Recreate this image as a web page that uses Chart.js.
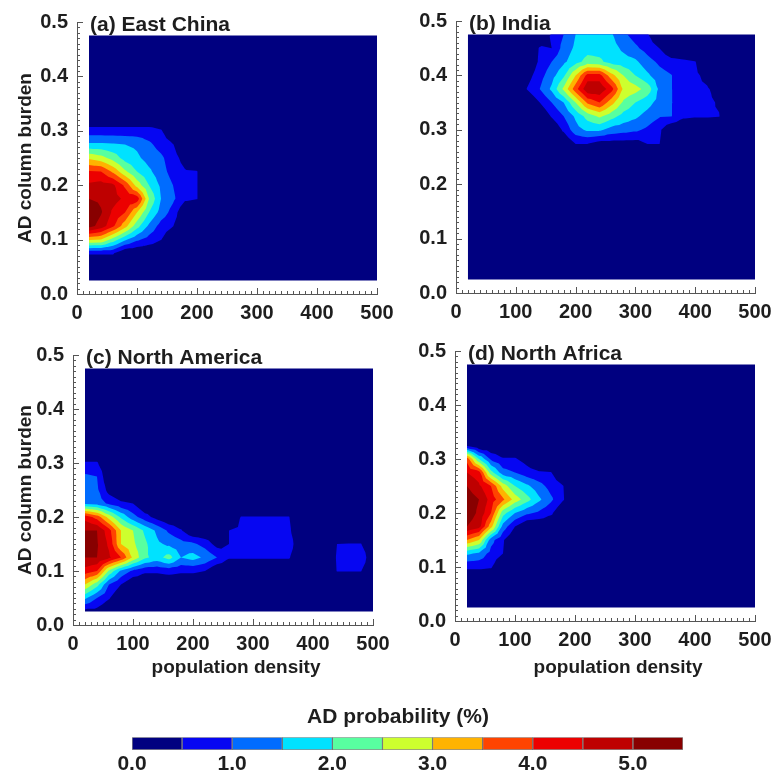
<!DOCTYPE html>
<html>
<head>
<meta charset="utf-8">
<script src="https://cdn.jsdelivr.net/npm/chart.js@4.4.1/dist/chart.umd.min.js"></script>
<style>
  html, body { margin: 0; padding: 0; background: #fff; }
  #page { position: relative; width: 776px; height: 774px; overflow: hidden; background: #fff; }
  canvas { position: absolute; }
</style>
</head>
<body>
<div id="page">
  <canvas id="panelA" width="420" height="330" style="left:0;top:0"></canvas>
  <canvas id="panelB" width="376" height="330" style="left:400px;top:0"></canvas>
  <canvas id="panelC" width="420" height="360" style="left:0;top:330px"></canvas>
  <canvas id="panelD" width="376" height="360" style="left:400px;top:330px"></canvas>
  <canvas id="colorbar" width="776" height="84" style="left:0;top:690px"></canvas>
</div>
<script>
// ---- grid nodes (population density / AD column burden) ----
const xNodes = [20, 40, 60, 80, 100, 120, 140, 160, 180, 200, 220, 240, 260,
                280, 300, 320, 340, 360, 380, 400, 420, 440, 460, 480, 500];
// rows listed from top (0.475) to bottom (0.025)
const yNodes = [0.475, 0.45, 0.425, 0.4, 0.375, 0.35, 0.325, 0.3, 0.275, 0.25,
                0.225, 0.2, 0.175, 0.15, 0.125, 0.1, 0.075, 0.05, 0.025];

// contour level bounds and colours (AD probability, %)
const levelBounds = [0, 0.5, 1.0, 1.5, 2.0, 2.5, 3.0, 3.5, 4.0, 4.5, 5.0, 5.5];
const bandColors = ['#000080', '#0606f2', '#006cff', '#00e2ff', '#58ffa0', '#cdff2e',
                    '#ffb300', '#ff4400', '#ec0000', '#be0000', '#880000'];
const colorbarTicks = [0, 1, 2, 3, 4, 5];

const xTicks = [0, 100, 200, 300, 400, 500];
const yTicks = [0, 0.1, 0.2, 0.3, 0.4, 0.5];

// ---- probability grids, one row per yNodes entry ----
const eastChina = [
  [0,0,0,0,0,  0,0,0,0,0,  0,0,0,0,0,  0,0,0,0,0,  0,0,0,0,0],
  [0,0,0,0,0,  0,0,0,0,0,  0,0,0,0,0,  0,0,0,0,0,  0,0,0,0,0],
  [0,0,0,0,0,  0,0,0,0,0,  0,0,0,0,0,  0,0,0,0,0,  0,0,0,0,0],
  [0,0,0,0,0,  0,0,0,0,0,  0,0,0,0,0,  0,0,0,0,0,  0,0,0,0,0],
  [0,0,0,0,0,  0,0,0,0,0,  0,0,0,0,0,  0,0,0,0,0,  0,0,0,0,0],
  [0,0,0,0,0,  0,0,0,0,0,  0,0,0,0,0,  0,0,0,0,0,  0,0,0,0,0],
  [0,0,0,0,0,  0,0,0,0,0,  0,0,0,0,0,  0,0,0,0,0,  0,0,0,0,0],
  [0.7,0.7,0.7,0.7,0.7,  0.7,0.55,0,0,0,  0,0,0,0,0,  0,0,0,0,0,  0,0,0,0,0],
  [1.6,1.6,1.55,1.5,1.4,  1.1,0.8,0.52,0,0,  0,0,0,0,0,  0,0,0,0,0,  0,0,0,0,0],
  [2.9,2.7,2.3,1.8,1.6,  1.3,1.1,0.7,0.3,0,  0,0,0,0,0,  0,0,0,0,0,  0,0,0,0,0],
  [4.05,4.0,3.4,2.6,2.0,  1.6,1.2,0.8,0.55,0.52,  0,0,0,0,0,  0,0,0,0,0,  0,0,0,0,0],
  [4.6,4.7,4.6,3.9,2.8,  2.0,1.4,1.0,0.6,0.52,  0,0,0,0,0,  0,0,0,0,0,  0,0,0,0,0],
  [5.0,4.9,4.7,4.4,4.3,  2.5,1.5,1.1,0.6,0.52,  0,0,0,0,0,  0,0,0,0,0,  0,0,0,0,0],
  [5.4,5.05,4.4,4.0,3.0,  2.0,1.3,0.8,0,0,  0,0,0,0,0,  0,0,0,0,0,  0,0,0,0,0],
  [5.2,4.8,4.1,3.2,2.2,  1.4,0.8,0.52,0,0,  0,0,0,0,0,  0,0,0,0,0,  0,0,0,0,0],
  [3.1,3.0,2.3,1.6,1.1,  0.8,0.52,0,0,0,  0,0,0,0,0,  0,0,0,0,0,  0,0,0,0,0],
  [0.55,0.55,0.55,0,0,  0,0,0,0,0,  0,0,0,0,0,  0,0,0,0,0,  0,0,0,0,0],
  [0,0,0,0,0,  0,0,0,0,0,  0,0,0,0,0,  0,0,0,0,0,  0,0,0,0,0],
  [0,0,0,0,0,  0,0,0,0,0,  0,0,0,0,0,  0,0,0,0,0,  0,0,0,0,0]
];

const india = [
  [0,0,0,0,0,  0,0,0.55,1.0,1.5,  1.8,1.8,1.55,1.1,0.8,  0.55,0,0,0,0,  0,0,0,0,0],
  [0,0,0,0,0,  0,0.55,0.5,1.2,1.6,  1.8,1.8,1.7,1.4,1.1,  0.8,0.5,0,0,0,  0,0,0,0,0],
  [0,0,0,0,0,  0,0.6,1.0,1.4,1.8,  2.2,2.1,1.8,1.7,1.6,  1.2,0.9,0.7,0.6,0.52,  0,0,0,0,0],
  [0,0,0,0,0,  0.3,0.8,1.3,1.9,3.0,  4.2,4.2,3.2,2.5,2.0,  1.6,1.2,1.02,0.7,0.6,  0.35,0,0,0,0],
  [0,0,0,0,0,  0.55,1.0,1.6,2.6,3.8,  4.9,4.9,4.2,2.9,2.7,  2.3,1.4,1.02,0.7,0.6,  0.55,0.3,0,0,0],
  [0,0,0,0,0,  0,0.5,1.0,1.5,2.5,  3.6,4.0,3.2,2.4,2.0,  1.7,1.3,1.02,0.8,0.7,  0.6,0.45,0,0,0],
  [0,0,0,0,0,  0,0,0.55,1.0,1.6,  2.2,2.6,2.2,1.8,1.6,  1.3,1.05,1.02,0.6,0.55,  0.55,0.52,0,0,0],
  [0,0,0,0,0,  0,0,0,0.6,1.3,  1.6,1.6,1.3,1.2,1.1,  0.9,0.6,0,0,0,  0,0,0,0,0],
  [0,0,0,0,0,  0,0,0,0,0.52,  0.52,0.3,0.3,0.3,0.3,  0.52,0.52,0,0,0,  0,0,0,0,0],
  [0,0,0,0,0,  0,0,0,0,0,  0,0,0,0,0,  0,0,0,0,0,  0,0,0,0,0],
  [0,0,0,0,0,  0,0,0,0,0,  0,0,0,0,0,  0,0,0,0,0,  0,0,0,0,0],
  [0,0,0,0,0,  0,0,0,0,0,  0,0,0,0,0,  0,0,0,0,0,  0,0,0,0,0],
  [0,0,0,0,0,  0,0,0,0,0,  0,0,0,0,0,  0,0,0,0,0,  0,0,0,0,0],
  [0,0,0,0,0,  0,0,0,0,0,  0,0,0,0,0,  0,0,0,0,0,  0,0,0,0,0],
  [0,0,0,0,0,  0,0,0,0,0,  0,0,0,0,0,  0,0,0,0,0,  0,0,0,0,0],
  [0,0,0,0,0,  0,0,0,0,0,  0,0,0,0,0,  0,0,0,0,0,  0,0,0,0,0],
  [0,0,0,0,0,  0,0,0,0,0,  0,0,0,0,0,  0,0,0,0,0,  0,0,0,0,0],
  [0,0,0,0,0,  0,0,0,0,0,  0,0,0,0,0,  0,0,0,0,0,  0,0,0,0,0],
  [0,0,0,0,0,  0,0,0,0,0,  0,0,0,0,0,  0,0,0,0,0,  0,0,0,0,0]
];

const northAmerica = [
  [0,0,0,0,0,  0,0,0,0,0,  0,0,0,0,0,  0,0,0,0,0,  0,0,0,0,0],
  [0,0,0,0,0,  0,0,0,0,0,  0,0,0,0,0,  0,0,0,0,0,  0,0,0,0,0],
  [0,0,0,0,0,  0,0,0,0,0,  0,0,0,0,0,  0,0,0,0,0,  0,0,0,0,0],
  [0,0,0,0,0,  0,0,0,0,0,  0,0,0,0,0,  0,0,0,0,0,  0,0,0,0,0],
  [0,0,0,0,0,  0,0,0,0,0,  0,0,0,0,0,  0,0,0,0,0,  0,0,0,0,0],
  [0,0,0,0,0,  0,0,0,0,0,  0,0,0,0,0,  0,0,0,0,0,  0,0,0,0,0],
  [0,0,0,0,0,  0,0,0,0,0,  0,0,0,0,0,  0,0,0,0,0,  0,0,0,0,0],
  [0.55,0.55,0,0,0,  0,0,0,0,0,  0,0,0,0,0,  0,0,0,0,0,  0,0,0,0,0],
  [1.1,1.0,0,0,0,  0,0,0,0,0,  0,0,0,0,0,  0,0,0,0,0,  0,0,0,0,0],
  [1.2,1.1,0.3,0,0,  0,0,0,0,0,  0,0,0,0,0,  0,0,0,0,0,  0,0,0,0,0],
  [1.4,1.3,0.9,0.6,0.5,  0,0,0,0,0,  0,0,0,0,0,  0,0,0,0,0,  0,0,0,0,0],
  [4.3,3.8,2.8,1.9,1.2,  0.7,0.3,0,0,0,  0,0,0,0.52,0.52,  0.52,0.52,0.52,0,0,  0,0,0,0,0],
  [5.0,5.0,4.2,3.0,2.5,  1.9,1.4,0.9,0.55,0,  0,0,0.5,0.6,0.6,  0.6,0.6,0.6,0,0,  0,0,0,0,0],
  [5.3,5.05,4.4,3.0,2.6,  2.1,1.6,1.4,1.2,1.1,  0.8,0.3,0.5,0.6,0.6,  0.6,0.6,0.8,0,0,  0,0.5,0.52,0.52,0],
  [5.0,5.0,4.6,4.0,2.9,  2.1,1.8,2.2,1.5,1.7,  1.4,1.0,0.55,0.55,0.55,  0.55,0.55,0.55,0,0,  0,0.55,0.6,0.9,0],
  [4.3,4.0,2.4,1.4,0.9,  0.6,0.6,0.7,0.6,0.6,  0.5,0,0,0,0,  0,0,0,0,0,  0,0.52,0.52,0.52,0],
  [3.0,2.2,1.0,0.5,0,  0,0,0,0,0,  0,0,0,0,0,  0,0,0,0,0,  0,0,0,0,0],
  [1.6,1.0,0.55,0,0,  0,0,0,0,0,  0,0,0,0,0,  0,0,0,0,0,  0,0,0,0,0],
  [0.3,0.3,0,0,0,  0,0,0,0,0,  0,0,0,0,0,  0,0,0,0,0,  0,0,0,0,0]
];

const northAfrica = [
  [0,0,0,0,0,  0,0,0,0,0,  0,0,0,0,0,  0,0,0,0,0,  0,0,0,0,0],
  [0,0,0,0,0,  0,0,0,0,0,  0,0,0,0,0,  0,0,0,0,0,  0,0,0,0,0],
  [0,0,0,0,0,  0,0,0,0,0,  0,0,0,0,0,  0,0,0,0,0,  0,0,0,0,0],
  [0,0,0,0,0,  0,0,0,0,0,  0,0,0,0,0,  0,0,0,0,0,  0,0,0,0,0],
  [0,0,0,0,0,  0,0,0,0,0,  0,0,0,0,0,  0,0,0,0,0,  0,0,0,0,0],
  [0,0,0,0,0,  0,0,0,0,0,  0,0,0,0,0,  0,0,0,0,0,  0,0,0,0,0],
  [0.4,0,0,0,0,  0,0,0,0,0,  0,0,0,0,0,  0,0,0,0,0,  0,0,0,0,0],
  [3.8,2.0,0.9,0.55,0.55,  0.3,0,0,0,0,  0,0,0,0,0,  0,0,0,0,0,  0,0,0,0,0],
  [4.5,4.2,2.2,1.2,1.0,  0.7,0.55,0.52,0,0,  0,0,0,0,0,  0,0,0,0,0,  0,0,0,0,0],
  [5.0,4.6,4.0,2.8,2.0,  1.6,1.2,0.8,0.52,0,  0,0,0,0,0,  0,0,0,0,0,  0,0,0,0,0],
  [5.3,5.0,4.3,3.6,2.8,  2.2,1.6,1.1,0.55,0,  0,0,0,0,0,  0,0,0,0,0,  0,0,0,0,0],
  [5.3,4.9,4.0,2.2,1.5,  1.1,0.9,0.6,0,0,  0,0,0,0,0,  0,0,0,0,0,  0,0,0,0,0],
  [5.0,4.7,3.2,1.3,0.5,  0,0,0,0,0,  0,0,0,0,0,  0,0,0,0,0,  0,0,0,0,0],
  [3.5,3.0,1.2,0.55,0,  0,0,0,0,0,  0,0,0,0,0,  0,0,0,0,0,  0,0,0,0,0],
  [1.6,1.4,0.8,0.5,0,  0,0,0,0,0,  0,0,0,0,0,  0,0,0,0,0,  0,0,0,0,0],
  [0.6,0.6,0.55,0,0,  0,0,0,0,0,  0,0,0,0,0,  0,0,0,0,0,  0,0,0,0,0],
  [0,0,0,0,0,  0,0,0,0,0,  0,0,0,0,0,  0,0,0,0,0,  0,0,0,0,0],
  [0,0,0,0,0,  0,0,0,0,0,  0,0,0,0,0,  0,0,0,0,0,  0,0,0,0,0],
  [0,0,0,0,0,  0,0,0,0,0,  0,0,0,0,0,  0,0,0,0,0,  0,0,0,0,0]
];

const FONT = "'Liberation Sans', Arial, Helvetica, sans-serif";
const TEXT = '#1e1e1e';
const AXIS = '#555';

/**
 * Part of a triangle where z >= level (linear interpolation along edges)
 */
function clipAbove(tri, level) {
    const out = [];
    for (let i = 0; i < tri.length; i++) {
        const p = tri[i], q = tri[(i + 1) % tri.length];
        const pin = p.z >= level, qin = q.z >= level;
        if (pin) out.push(p);
        if (pin !== qin) {
            const t = (level - p.z) / (q.z - p.z);
            out.push({ x: p.x + t * (q.x - p.x), y: p.y + t * (q.y - p.y), z: level });
        }
    }
    return out;
}

/**
 * Filled contour layer for one grid, drawn through the chart's scales
 */
function contourLayer(grid) {
    return {
        id: 'contour',
        beforeDatasetsDraw(chart) {
            const { ctx } = chart;
            const xs = chart.scales.x, ys = chart.scales.y;
            const px = xNodes.map(v => xs.getPixelForValue(v));
            const py = yNodes.map(v => ys.getPixelForValue(v));
            const tris = [];
            for (let j = 0; j < yNodes.length - 1; j++) {
                for (let i = 0; i < xNodes.length - 1; i++) {
                    const a = { x: px[i], y: py[j], z: grid[j][i] };
                    const b = { x: px[i + 1], y: py[j], z: grid[j][i + 1] };
                    const c = { x: px[i + 1], y: py[j + 1], z: grid[j + 1][i + 1] };
                    const d = { x: px[i], y: py[j + 1], z: grid[j + 1][i] };
                    const m = { x: (a.x + b.x) / 2, y: (a.y + d.y) / 2, z: (a.z + b.z + c.z + d.z) / 4 };
                    tris.push([a, b, m], [b, c, m], [c, d, m], [d, a, m]);
                }
            }
            ctx.save();
            bandColors.forEach((color, k) => {
                ctx.beginPath();
                tris.forEach(t => {
                    const poly = clipAbove(t, levelBounds[k]);
                    if (poly.length < 3) return;
                    ctx.moveTo(poly[0].x, poly[0].y);
                    for (let n = 1; n < poly.length; n++) ctx.lineTo(poly[n].x, poly[n].y);
                    ctx.closePath();
                });
                ctx.fillStyle = color;
                ctx.fill();
            });
            ctx.restore();
        }
    };
}

/**
 * IDL style inward tick marks on the left and bottom axes
 */
const innerTicks = {
    id: 'innerTicks',
    afterDraw(chart) {
        const { ctx } = chart;
        const xs = chart.scales.x, ys = chart.scales.y;
        ctx.save();
        ctx.strokeStyle = AXIS;
        ctx.lineWidth = 1;
        ctx.beginPath();
        for (let n = 0; n <= 50; n++) {
            const x = Math.round(xs.getPixelForValue(n * 10)) + 0.5;
            const len = n % 10 === 0 ? 6 : 3;
            ctx.moveTo(x, ys.bottom);
            ctx.lineTo(x, ys.bottom - len);
        }
        for (let n = 0; n <= 50; n++) {
            const y = Math.round(ys.getPixelForValue(n / 100)) + 0.5;
            const len = n % 10 === 0 ? 6 : 3;
            ctx.moveTo(xs.left, y);
            ctx.lineTo(xs.left + len, y);
        }
        ctx.stroke();
        ctx.restore();
    }
};

/**
 * Panel label inside the top of the plot, optional x title below the axis
 */
function panelText(label, xTitle) {
    return {
        id: 'panelText',
        afterDraw(chart) {
            const { ctx, chartArea } = chart;
            ctx.save();
            ctx.fillStyle = TEXT;
            ctx.font = 'bold 21px ' + FONT;
            ctx.textBaseline = 'alphabetic';
            ctx.textAlign = 'left';
            ctx.fillText(label, chartArea.left + 13, chartArea.top + 9);
            if (xTitle) {
                ctx.font = 'bold 19px ' + FONT;
                ctx.textAlign = 'center';
                ctx.textBaseline = 'middle';
                ctx.fillText(xTitle, (chartArea.left + chartArea.right) / 2 + 13, chart.height - 22);
            }
            ctx.restore();
        }
    };
}

function makePanel(id, grid, label, cfg) {
    const ctx = document.getElementById(id);
    new Chart(ctx, {
        type: 'scatter',
        data: { datasets: [{ data: [], pointRadius: 0 }] },
        options: {
            responsive: false,
            animation: false,
            devicePixelRatio: 1,
            layout: { padding: cfg.padding },
            plugins: { legend: { display: false }, tooltip: { enabled: false } },
            scales: {
                x: {
                    type: 'linear',
                    min: 0,
                    max: 500,
                    grid: { display: false, drawTicks: false },
                    border: { display: true, color: AXIS, width: 1 },
                    afterBuildTicks: s => { s.ticks = xTicks.map(v => ({ value: v })); },
                    afterFit: s => { s.height = cfg.xHeight; s.paddingLeft = 0; s.paddingRight = 0; },
                    ticks: {
                        color: TEXT,
                        padding: 7,
                        maxRotation: 0,
                        font: { family: FONT, size: 20, weight: 'bold' },
                        callback: v => String(v)
                    }
                },
                y: {
                    type: 'linear',
                    min: 0,
                    max: 0.5,
                    grid: { display: false, drawTicks: false },
                    border: { display: true, color: AXIS, width: 1 },
                    afterBuildTicks: s => { s.ticks = yTicks.map(v => ({ value: v })); },
                    afterFit: s => { s.width = cfg.yWidth; s.paddingTop = 0; s.paddingBottom = 0; },
                    ticks: {
                        color: TEXT,
                        padding: 9,
                        font: { family: FONT, size: 20, weight: 'bold' },
                        callback: v => v.toFixed(1)
                    },
                    title: {
                        display: cfg.yTitle,
                        text: 'AD column burden',
                        color: TEXT,
                        font: { family: FONT, size: 19, weight: 'bold' },
                        padding: { top: 14, bottom: 0 }
                    }
                }
            }
        },
        plugins: [contourLayer(grid), innerTicks, panelText(label, cfg.xTitle ? 'population density' : '')]
    });
}

function initColorbar() {
    const ctx = document.getElementById('colorbar');
    const datasets = bandColors.map((color, k) => ({
        data: [[levelBounds[k], levelBounds[k + 1]]],
        backgroundColor: color,
        borderColor: 'rgba(0,0,0,0.45)',
        borderWidth: 1,
        borderSkipped: false,
        grouped: false,
        barPercentage: 1,
        categoryPercentage: 1
    }));
    new Chart(ctx, {
        type: 'bar',
        data: { labels: ['AD probability'], datasets },
        options: {
            indexAxis: 'y',
            responsive: false,
            animation: false,
            devicePixelRatio: 1,
            layout: { padding: { left: 113, right: 93, top: 0, bottom: 0 } },
            plugins: {
                legend: { display: false },
                tooltip: { enabled: false },
                title: {
                    display: true,
                    text: 'AD probability (%)',
                    color: TEXT,
                    font: { family: FONT, size: 21, weight: 'bold' },
                    padding: { top: 15, bottom: 7 }
                }
            },
            scales: {
                x: {
                    type: 'linear',
                    min: levelBounds[0],
                    max: levelBounds[levelBounds.length - 1],
                    grid: { display: false, drawTicks: false },
                    border: { display: false },
                    afterBuildTicks: s => { s.ticks = colorbarTicks.map(v => ({ value: v })); },
                    afterFit: s => { s.height = 24; s.paddingLeft = 0; s.paddingRight = 0; },
                    ticks: {
                        color: TEXT,
                        padding: 2,
                        maxRotation: 0,
                        font: { family: FONT, size: 21, weight: 'bold' },
                        callback: v => v.toFixed(1)
                    }
                },
                y: {
                    grid: { display: false, drawTicks: false },
                    border: { display: false },
                    ticks: { display: false },
                    afterFit: s => { s.width = 19; }
                }
            }
        }
    });
}

document.addEventListener('DOMContentLoaded', () => {
    makePanel('panelA', eastChina, '(a) East China',
        { padding: { left: 0, top: 22, right: 43, bottom: 0 }, yWidth: 77, xHeight: 36, xTitle: false, yTitle: true });
    makePanel('panelB', india, '(b) India',
        { padding: { left: 0, top: 21, right: 21, bottom: 0 }, yWidth: 56, xHeight: 37, xTitle: false, yTitle: false });
    makePanel('panelC', northAmerica, '(c) North America',
        { padding: { left: 0, top: 25, right: 47, bottom: 0 }, yWidth: 73, xHeight: 65, xTitle: true, yTitle: true });
    makePanel('panelD', northAfrica, '(d) North Africa',
        { padding: { left: 0, top: 21, right: 21, bottom: 0 }, yWidth: 55, xHeight: 69, xTitle: true, yTitle: false });
    initColorbar();
});
</script>
</body>
</html>
